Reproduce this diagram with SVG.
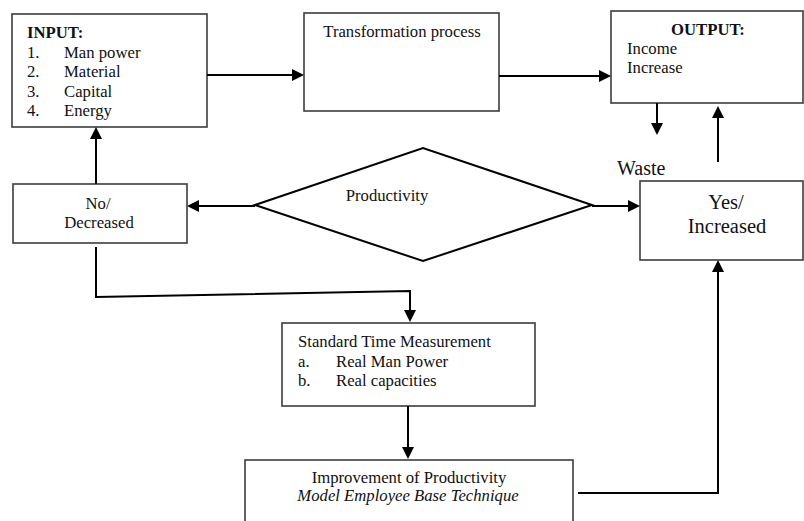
<svg xmlns="http://www.w3.org/2000/svg" width="804" height="521" viewBox="0 0 804 521" font-family="'Liberation Serif', 'Times New Roman', serif">
<defs>
<style>
.box{fill:#fff;stroke:#3c3c3c;stroke-width:1.6}
.dia{fill:#fff;stroke:#000;stroke-width:2}
.con{fill:none;stroke:#000;stroke-width:2}
text{font-family:'Liberation Serif','Times New Roman',serif;font-size:16.7px;fill:#111}
.b{font-weight:bold}
.c{text-anchor:middle}
.i{font-style:italic}
.big{font-size:20.5px}
</style>
<marker id="ah" markerUnits="userSpaceOnUse" markerWidth="12" markerHeight="12" refX="7" refY="6" orient="auto">
<path d="M0,0 L12,6 L0,12 z" fill="#000"/>
</marker>
</defs>
<rect width="804" height="521" fill="#fff"/>

<g id="input">
<rect class="box" x="12" y="14" width="195" height="113"/>
<text class="b" x="27" y="38">INPUT:</text>
<text x="27" y="57.5">1.</text><text x="64" y="57.5">Man power</text>
<text x="27" y="77">2.</text><text x="64" y="77">Material</text>
<text x="27" y="96.5">3.</text><text x="64" y="96.5">Capital</text>
<text x="27" y="116">4.</text><text x="64" y="116">Energy</text>
</g>

<g id="transformation">
<rect class="box" x="304" y="13" width="195" height="98"/>
<text class="c" x="402" y="37">Transformation process</text>
</g>

<g id="output">
<rect class="box" x="611" y="11" width="192" height="92"/>
<text class="b c" x="708" y="35">OUTPUT:</text>
<text x="627" y="54">Income</text>
<text x="627" y="73">Increase</text>
</g>

<g id="waste">
<text x="617" y="175" style="font-size:20px">Waste</text>
</g>

<g id="productivity">
<polygon class="dia" points="255,205 423,148 592,205 423,261"/>
<text class="c" x="387" y="201">Productivity</text>
</g>

<g id="no-decreased">
<rect class="box" x="13" y="184" width="174" height="59"/>
<text class="c" x="98" y="209">No/</text>
<text class="c" x="99" y="228">Decreased</text>
</g>

<g id="yes-increased">
<rect class="box" x="640" y="181" width="163" height="79"/>
<text class="c big" x="726" y="209">Yes/</text>
<text class="c big" x="727" y="233">Increased</text>
</g>

<g id="standard">
<rect class="box" x="282" y="323" width="253" height="83"/>
<text x="298" y="347">Standard Time Measurement</text>
<text x="298" y="367">a.</text><text x="336" y="367">Real Man Power</text>
<text x="298" y="386">b.</text><text x="336" y="386">Real capacities</text>
</g>

<g id="improvement">
<rect class="box" x="245" y="460" width="328" height="80"/>
<text class="c" x="409" y="483">Improvement of Productivity</text>
<text class="c i" x="408" y="501">Model Employee Base Technique</text>
</g>

<g id="connectors">
<path class="con" d="M207,75 H299" marker-end="url(#ah)"/>
<path class="con" d="M499,76 H606" marker-end="url(#ah)"/>
<path class="con" d="M657,103 V130" marker-end="url(#ah)"/>
<path class="con" d="M718,162 V111" marker-end="url(#ah)"/>
<path class="con" d="M592,206 H635" marker-end="url(#ah)"/>
<path class="con" d="M255,206 H192" marker-end="url(#ah)"/>
<path class="con" d="M96,184 V132" marker-end="url(#ah)"/>
<path class="con" d="M96,247 V297 L410,291 V317" marker-end="url(#ah)"/>
<path class="con" d="M408,406 V454" marker-end="url(#ah)"/>
<path class="con" d="M578,493 H718 V265" marker-end="url(#ah)"/>
</g>
</svg>
